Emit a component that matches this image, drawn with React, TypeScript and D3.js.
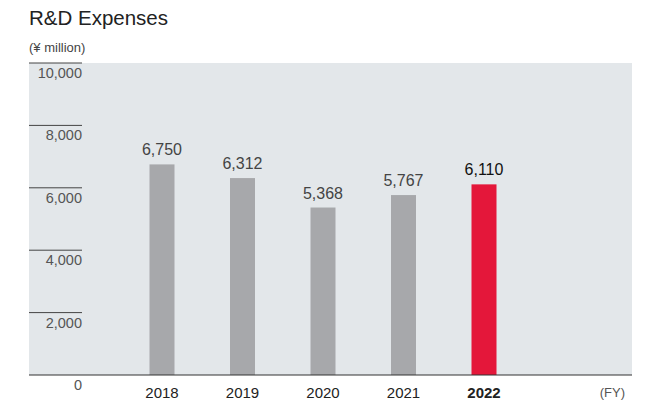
import React from "react";
import * as d3 from "d3";

const categories = ["2018", "2019", "2020", "2021", "2022"];
const values = [6750, 6312, 5368, 5767, 6110];
const tickValues = [0, 2000, 4000, 6000, 8000, 10000];

const W = 648, H = 406;
const plotLeft = 29, plotRight = 632, plotTop = 63, plotBottom = 375;

export default function App() {
  const y = d3.scaleLinear().domain([0, 10000]).range([plotBottom, plotTop]);
  const x = d3.scalePoint<string>().domain(categories).range([162, 484]);
  const barW = 25;
  const fmt = d3.format(",");
  const font = "'Liberation Sans', Arial, sans-serif";
  const narrow = "'Liberation Sans Narrow', 'Liberation Sans', sans-serif";
  return (
    <svg width={W} height={H} style={{ position: "absolute", left: 0, top: 0 }} fontFamily={font}>
      <text x={29} y={25} fontSize={20.5} fill="#222">R&amp;D Expenses</text>
      <text x={29} y={52} fontSize={13} fill="#444">(¥ million)</text>
      <rect x={plotLeft} y={plotTop} width={plotRight - plotLeft} height={plotBottom - plotTop} fill="#e3e7ea" />
      {tickValues.filter(t => t > 0).map(t => (
        <g key={t}>
          <line x1={plotLeft} x2={82} y1={y(t)} y2={y(t)} stroke="#444" strokeWidth={1} />
          <text x={82} y={y(t) + 15} textAnchor="end" fontSize={14.5} fill="#555">{fmt(t)}</text>
        </g>
      ))}
      <text x={82} y={y(0) + 15} textAnchor="end" fontSize={14.5} fill="#555">{fmt(0)}</text>
      {categories.map((c, i) => {
        const last = i === categories.length - 1;
        return (
          <g key={c}>
            <rect x={x(c)! - barW / 2} y={y(values[i])} width={barW} height={plotBottom - y(values[i])} fill={last ? "#e4173a" : "#a7a8ab"} />
            <text x={x(c)!} y={y(values[i]) - 9} textAnchor="middle" fontSize={16} fill={last ? "#111" : "#444"}>{fmt(values[i])}</text>
            <text x={x(c)!} y={398} textAnchor="middle" fontSize={15} fontFamily={narrow} fill="#222" fontWeight={last ? 700 : 400}>{c}</text>
          </g>
        );
      })}
      <line x1={plotLeft} x2={plotRight} y1={plotBottom} y2={plotBottom} stroke="#333" strokeWidth={1.2} />
      <text x={625} y={397} textAnchor="end" fontSize={13} fontFamily={narrow} fill="#555">(FY)</text>
    </svg>
  );
}
